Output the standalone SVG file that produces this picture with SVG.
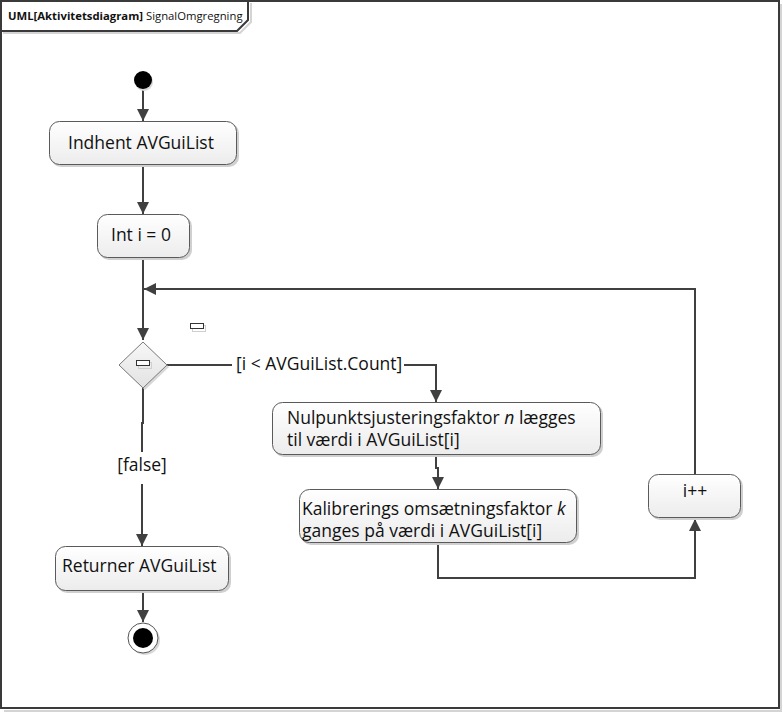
<svg xmlns="http://www.w3.org/2000/svg" width="783" height="712" viewBox="0 0 783 712">
  <defs>
    <linearGradient id="actFill" x1="0" y1="0" x2="0" y2="1">
      <stop offset="0" stop-color="#ffffff"/>
      <stop offset="1" stop-color="#ececec"/>
    </linearGradient>
    <linearGradient id="decFill" x1="0" y1="0" x2="0" y2="1">
      <stop offset="0" stop-color="#f7f7f7"/>
      <stop offset="1" stop-color="#e2e2e2"/>
    </linearGradient>
    <marker id="arrow" viewBox="0 0 12 12" refX="12" refY="6" markerWidth="12" markerHeight="12" markerUnits="userSpaceOnUse" orient="auto">
      <path d="M0,0 L12,6 L0,12 z" fill="#404040"/>
    </marker>
  </defs>
  <style>
    .frame { fill: none; stroke: #3a3a3a; stroke-width: 2; }
    .frameShadow { fill: none; stroke: #d4d4d4; stroke-width: 2; }
    .act { fill: url(#actFill); stroke: #5a5a5a; stroke-width: 1; }
    .shadow { fill: #d0d0d0; stroke: none; }
    .dec { fill: url(#decFill); stroke: #7a7a7a; stroke-width: 1; }
    .edge { fill: none; stroke: #404040; stroke-width: 2; }
    .lbl { font-family: "Open Sans", "Liberation Sans", sans-serif; font-size: 17.5px; fill: #111; }
    .title { font-family: "Open Sans", "Liberation Sans", sans-serif; font-size: 11.3px; fill: #111; }
    .pin { fill: #ffffff; stroke: #333; stroke-width: 1; }
    .pinShadow { fill: none; stroke: #cfcfcf; stroke-width: 1; }
  </style>

  <rect width="783" height="712" fill="#ffffff"/>

  <!-- diagram frame with title tab -->
  <g id="frame">
    <path class="frameShadow" d="M781,4 V711 H4"/>
    <rect class="frame" x="1" y="1" width="778" height="707"/>
    <path class="frameShadow" d="M251,3 V22 L240,33 H3"/>
    <path class="frame" d="M1,1 H248 V20 L237,31 H1"/>
    <text class="title" x="8" y="20"><tspan font-weight="bold">UML[Aktivitetsdiagram]</tspan> SignalOmgregning</text>
  </g>

  <!-- connectors -->
  <g id="connectors">
    <path class="edge" d="M143,90 V121" marker-end="url(#arrow)"/>
    <path class="edge" d="M143,165 V214" marker-end="url(#arrow)"/>
    <path class="edge" d="M143,258 V340" marker-end="url(#arrow)"/>
    <path class="edge" d="M695,474 V289 H144" marker-end="url(#arrow)"/>
    <path class="edge" d="M167,365 H232"/>
    <path class="edge" d="M404,365 H436 V402" marker-end="url(#arrow)"/>
    <path class="edge" d="M436,455 V468 H438 V489" marker-end="url(#arrow)"/>
    <path class="edge" d="M438,543 V578 H695 V519" marker-end="url(#arrow)"/>
    <path class="edge" d="M143,388 V423 H142 V452"/>
    <path class="edge" d="M142,484 V546" marker-end="url(#arrow)"/>
    <path class="edge" d="M143,591 V622" marker-end="url(#arrow)"/>
    <text class="lbl" x="236" y="370">[i &lt; AVGuiList.Count]</text>
    <text class="lbl" x="142" y="471" text-anchor="middle">[false]</text>
  </g>

  <!-- loose pin marker -->
  <g id="pin">
    <rect class="pinShadow" x="192.5" y="325.5" width="13" height="6"/>
    <rect class="pin" x="190.5" y="323.5" width="13" height="5"/>
  </g>

  <g id="start">
    <circle cx="144" cy="82" r="9" fill="#d8d8d8"/>
    <circle cx="143" cy="80" r="9" fill="#000"/>
  </g>

  <g id="indhent">
    <rect class="shadow" x="51" y="123" width="188" height="44" rx="10"/>
    <rect class="act" x="49.5" y="121.5" width="187" height="43" rx="10"/>
    <text class="lbl" x="68" y="149">Indhent AVGuiList</text>
  </g>

  <g id="init">
    <rect class="shadow" x="99" y="216" width="93" height="44" rx="10"/>
    <rect class="act" x="97.5" y="214.5" width="92" height="43" rx="10"/>
    <text class="lbl" x="111" y="241">Int i = 0</text>
  </g>

  <g id="decision">
    <path d="M145,344 L169,367 L145,390 L121,367 z" fill="#d8d8d8"/>
    <path class="dec" d="M143,342 L167,365 L143,388 L119,365 z"/>
    <rect class="pinShadow" x="138.5" y="362.5" width="13" height="6"/>
    <rect class="pin" x="136.5" y="360.5" width="13" height="5"/>
  </g>

  <g id="nulpunkt">
    <rect class="shadow" x="274" y="404" width="329" height="53" rx="10"/>
    <rect class="act" x="272.5" y="402.5" width="328" height="52" rx="10"/>
    <text class="lbl" x="287" y="424">Nulpunktsjusteringsfaktor <tspan font-style="italic">n</tspan> lægges</text>
    <text class="lbl" x="287" y="446">til værdi i AVGuiList[i]</text>
  </g>

  <g id="kalibrering">
    <rect class="shadow" x="301" y="491" width="278" height="54" rx="10"/>
    <rect class="act" x="299.5" y="489.5" width="277" height="53" rx="10"/>
    <text class="lbl" x="302" y="515">Kalibrerings omsætningsfaktor <tspan font-style="italic">k</tspan></text>
    <text class="lbl" x="302" y="537">ganges på værdi i AVGuiList[i]</text>
  </g>

  <g id="increment">
    <rect class="shadow" x="650" y="476" width="93" height="44" rx="10"/>
    <rect class="act" x="648.5" y="474.5" width="92" height="43" rx="10"/>
    <text class="lbl" x="695" y="497" text-anchor="middle">i++</text>
  </g>

  <g id="returner">
    <rect class="shadow" x="57" y="548" width="174" height="45" rx="10"/>
    <rect class="act" x="55.5" y="546.5" width="173" height="44" rx="10"/>
    <text class="lbl" x="62" y="572">Returner AVGuiList</text>
  </g>

  <g id="end">
    <circle cx="145" cy="640" r="15" fill="#d8d8d8"/>
    <circle cx="143" cy="638" r="15" fill="#ffffff" stroke="#555" stroke-width="1"/>
    <circle cx="143" cy="638" r="10" fill="#000"/>
  </g>
</svg>
